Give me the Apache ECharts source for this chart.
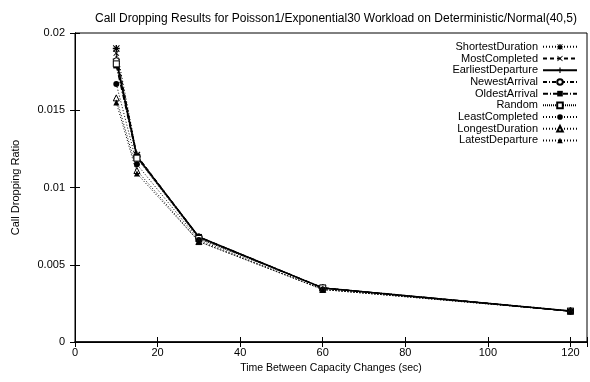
<!DOCTYPE html>
<html>
<head>
<meta charset="utf-8">
<script src="https://cdn.jsdelivr.net/npm/echarts@6/dist/echarts.min.js"></script>
<style>
  html, body { margin: 0; padding: 0; background: #fff; }
  #main { width: 590px; height: 382px; }
</style>
</head>
<body>
<div id="main"></div>
<script>
// x positions (sec)
const xValues = [10, 15, 30, 60, 120]

// call dropping ratio per policy
const shortestDuration = [0.0190, 0.0121, 0.0067, 0.0035, 0.0020]
const mostCompleted = [0.0187, 0.0121, 0.0068, 0.0035, 0.0020]
const earliestDeparture = [0.0183, 0.0120, 0.0068, 0.0035, 0.0020]
const newestArrival = [0.0182, 0.0120, 0.0068, 0.0035, 0.0020]
const oldestArrival = [0.0179, 0.0120, 0.0068, 0.0035, 0.0020]
const randomPolicy = [0.0180, 0.0119, 0.0067, 0.0035, 0.0020]
const leastCompleted = [0.0167, 0.0115, 0.0066, 0.0034, 0.0020]
const longestDuration = [0.0158, 0.0111, 0.0065, 0.0034, 0.0020]
const latestDeparture = [0.0155, 0.0109, 0.0065, 0.0034, 0.0020]

const xTicks = [0, 20, 40, 60, 80, 100, 120]
const yTicks = [0, 0.005, 0.01, 0.015, 0.02]

const FONT = 'Liberation Sans'
const PLUS = 'path://M4,0H6V10H4ZM0,4H10V6H0Z'
const CROSS = 'path://M1,0L5,4L9,0L10,1L6,5L10,9L9,10L5,6L1,10L0,9L4,5L0,1Z'
const STAR = 'path://M4,0H6V10H4ZM0,4H10V6H0ZM1,0L5,4L9,0L10,1L6,5L10,9L9,10L5,6L1,10L0,9L4,5L0,1Z'

function pairs(vals) {
  return xValues.map((x, i) => [x, vals[i]])
}

// name, data, dash, line width, symbol, size, filled
const defs = [
  ['ShortestDuration', shortestDuration, [1, 2], 1, STAR, 7, true],
  ['MostCompleted', mostCompleted, [4, 3], 1, CROSS, 6, true],
  ['EarliestDeparture', earliestDeparture, 'solid', 1.5, PLUS, 7, true],
  ['NewestArrival', newestArrival, [4, 2, 1, 2], 1, 'circle', 6, false],
  ['OldestArrival', oldestArrival, [5, 2, 1, 2], 1.5, 'rect', 6, true],
  ['Random', randomPolicy, [1, 1], 1, 'rect', 6, false],
  ['LeastCompleted', leastCompleted, [1, 2], 1, 'circle', 6, true],
  ['LongestDuration', longestDuration, [1, 2], 1, 'triangle', 6, false],
  ['LatestDeparture', latestDeparture, [1, 2], 1, 'triangle', 6, true]
]

const series = defs.map(d => ({
  name: d[0],
  type: 'line',
  data: pairs(d[1]),
  symbol: d[4],
  symbolSize: d[5],
  showAllSymbol: true,
  lineStyle: { color: '#000', width: d[3], type: d[2] },
  itemStyle: {
    color: d[6] ? '#000' : '#fff',
    borderColor: '#000',
    borderWidth: d[6] ? 0 : 1
  },
  emphasis: { disabled: true },
  animation: false
}))

const chart = echarts.init(document.getElementById('main'))

const axisText = { color: '#000', fontFamily: FONT, fontSize: 11 }

chart.setOption({
  backgroundColor: '#fff',
  title: {
    text: 'Call Dropping Results for Poisson1/Exponential30 Workload on Deterministic/Normal(40,5)',
    left: 331,
    textAlign: 'center',
    top: 8,
    textStyle: { color: '#000', fontFamily: FONT, fontSize: 12, fontWeight: 'normal' }
  },
  legend: {
    orient: 'vertical',
    right: 7,
    top: 36,
    align: 'right',
    itemWidth: 34,
    itemHeight: 7,
    itemGap: 0,
    textStyle: { color: '#000', fontFamily: FONT, fontSize: 11, lineHeight: 11.7 },
    data: defs.map(d => d[0])
  },
  grid: { left: 75, right: 2, top: 33, bottom: 40, show: true, borderColor: '#000', borderWidth: 1 },
  xAxis: [
    {
      type: 'value', min: 0, max: 124, interval: 20,
      name: 'Time Between Capacity Changes (sec)',
      nameLocation: 'middle', nameGap: 20,
      nameTextStyle: { ...axisText, fontSize: 10.5 },
      axisLine: { lineStyle: { color: '#000', width: 1.5 } },
      axisTick: { inside: true, length: 5, lineStyle: { color: '#000' } },
      axisLabel: {
        ...axisText, margin: 5,
        formatter: v => xTicks.includes(v) ? String(v) : ''
      },
      splitLine: { show: false }
    },
    {
      type: 'value', min: 0, max: 124, interval: 20, position: 'top',
      axisLine: { lineStyle: { color: '#000' } },
      axisTick: { inside: true, length: 5, lineStyle: { color: '#000' } },
      axisLabel: { show: false },
      splitLine: { show: false }
    }
  ],
  yAxis: [
    {
      type: 'value', min: 0, max: 0.02, interval: 0.005,
      name: 'Call Dropping Ratio',
      nameLocation: 'middle', nameGap: 54,
      nameTextStyle: axisText,
      axisLine: { lineStyle: { color: '#000' } },
      axisTick: { inside: true, length: 5, lineStyle: { color: '#000' } },
      axisLabel: {
        ...axisText, margin: 10,
        formatter: v => {
          const t = yTicks.find(y => Math.abs(y - v) < 1e-9)
          return t === undefined ? '' : String(t)
        }
      },
      splitLine: { show: false }
    },
    {
      type: 'value', min: 0, max: 0.02, interval: 0.005, position: 'right',
      axisLine: { lineStyle: { color: '#000' } },
      axisTick: { inside: true, length: 5, lineStyle: { color: '#000' } },
      axisLabel: { show: false },
      splitLine: { show: false }
    }
  ],
  series: series
})
</script>
</body>
</html>
